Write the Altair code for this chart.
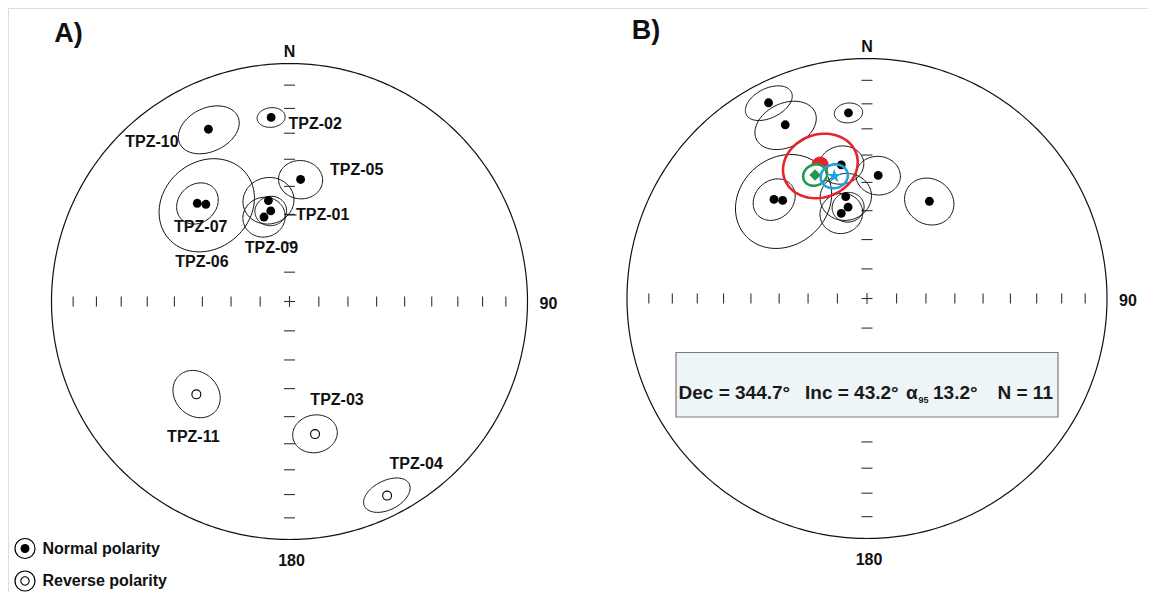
import math
import numpy as np
import pandas as pd
import altair as alt

# ------------------------------------------------------------------ data
sites = ["TPZ-01", "TPZ-02", "TPZ-03", "TPZ-04", "TPZ-05", "TPZ-06",
         "TPZ-07", "TPZ-08", "TPZ-09", "TPZ-10", "TPZ-11"]
# panel A: in-situ site means (negative inclination = reverse polarity)
dec_a = [348.3, 354.3, 169.1, 153.3, 5.2, 319.3, 316.8, 348.2, 343.2, 334.8, 225.1]
inc_a = [58.1, 23.3, -42.7, -9.6, 47.3, 45.2, 42.8, 54.3, 59.6, 21.1, -44.0]
a95_a = [5.2, 4.0, 7.0, 6.5, 7.0, 16.0, 7.0, 8.3, 7.0, 9.0, 8.0]
labels_a = ["TPZ-01", "TPZ-02", "TPZ-03", "TPZ-04", "TPZ-05", "TPZ-06",
            "TPZ-07", "", "TPZ-09", "TPZ-10", "TPZ-11"]
# panel B: all directions in normal polarity
dec_b = [348.3, 354.3, 349.1, 333.3, 5.2, 319.3, 316.8, 348.2, 343.2, 334.8, 32.7]
inc_b = [58.1, 23.3, 42.7, 9.6, 47.3, 45.2, 42.8, 54.3, 59.6, 21.1, 50.2]
a95_b = [5.2, 4.0, 7.0, 6.5, 7.0, 16.0, 7.0, 8.3, 7.0, 9.0, 8.1]
# mean directions shown in panel B: (dec, inc, a95)
mean_red = (340.6, 40.8, 11.7)
mean_green = (337.2, 43.5, 3.8)
mean_blue = (345.0, 46.2, 4.3)
stats_parts = ["Dec = 344.7°", "Inc = 43.2°", "α", "95", "13.2°", "N = 11"]
tick_incs = [10, 20, 30, 40, 50, 60, 70, 80]
legend_labels = ["Normal polarity", "Reverse polarity"]

# ------------------------------------------------------------------ layout
PA = dict(cx=289.5, cy=301.5, R=238.0)
PB = dict(cx=867.0, cy=298.5, R=240.0)
# label offsets from the site point (panel A)
label_off = {"TPZ-01": (52, 4), "TPZ-02": (44, 6.5), "TPZ-03": (22, -34),
             "TPZ-04": (29, -32), "TPZ-05": (56, -9.5), "TPZ-06": (-4, 57.5),
             "TPZ-07": (3.5, 23.5), "TPZ-09": (7.5, 31), "TPZ-10": (-56.5, 12.5),
             "TPZ-11": (-3, 42.5)}
FONT = "Liberation Sans"


def vec(dec, inc):
    D, I = math.radians(dec), math.radians(inc)
    return np.array([math.cos(I) * math.cos(D), math.cos(I) * math.sin(D), math.sin(I)])


def proj_vec(p, P):
    n, e, d = p
    d = max(d, 0.0)
    k = P["R"] / math.sqrt(1 + d)
    return P["cx"] + k * e, P["cy"] - k * n


def proj(dec, inc, P):
    return proj_vec(vec(dec, abs(inc)), P)


def cone(dec, inc, a, P, npts=96):
    I = abs(inc)
    m = vec(dec, I)
    u = vec(dec, I - 90)
    v = np.cross(m, u)
    A = math.radians(a)
    pts = []
    for t in np.linspace(0, 2 * math.pi, npts + 1):
        p = math.cos(A) * m + math.sin(A) * (math.cos(t) * u + math.sin(t) * v)
        pts.append(proj_vec(p, P))
    return pts


# ------------------------------------------------------------------ tables
ell_rows = []
for j, s in enumerate(sites):
    for k, (x, y) in enumerate(cone(dec_a[j], inc_a[j], a95_a[j], PA)):
        ell_rows.append(dict(grp="A" + s, ord=k, x=x, y=y))
    for k, (x, y) in enumerate(cone(dec_b[j], inc_b[j], a95_b[j], PB)):
        ell_rows.append(dict(grp="B" + s, ord=k, x=x, y=y))
ell_df = pd.DataFrame(ell_rows)

prim_rows = []
for name, P in (("A", PA), ("B", PB)):
    for k, t in enumerate(np.linspace(0, 2 * math.pi, 361)):
        prim_rows.append(dict(grp=name, ord=k, x=P["cx"] + P["R"] * math.sin(t),
                              y=P["cy"] - P["R"] * math.cos(t)))
prim_df = pd.DataFrame(prim_rows)

tick_rows = []
for P in (PA, PB):
    cx, cy, R = P["cx"], P["cy"], P["R"]
    for i in tick_incs:
        r = R * math.sqrt(1 - math.sin(math.radians(i)))
        for sgn in (-1, 1):
            tick_rows.append(dict(x=cx + sgn * r, x2=cx + sgn * r, y=cy - 5, y2=cy + 5))
            tick_rows.append(dict(x=cx - 5.5, x2=cx + 5.5, y=cy + sgn * r, y2=cy + sgn * r))
    tick_rows.append(dict(x=cx - 5.5, x2=cx + 5.5, y=cy, y2=cy))
    tick_rows.append(dict(x=cx, x2=cx, y=cy - 5.5, y2=cy + 5.5))
tick_df = pd.DataFrame(tick_rows)

pt_rows = []
for j, s in enumerate(sites):
    x, y = proj(dec_a[j], inc_a[j], PA)
    pt_rows.append(dict(x=x, y=y, pol="N" if inc_a[j] >= 0 else "R"))
    x, y = proj(dec_b[j], inc_b[j], PB)
    pt_rows.append(dict(x=x, y=y, pol="N" if inc_b[j] >= 0 else "R"))
pt_df = pd.DataFrame(pt_rows)

lab_rows = []
for j, s in enumerate(sites):
    if labels_a[j]:
        x, y = proj(dec_a[j], inc_a[j], PA)
        dx, dy = label_off[s]
        lab_rows.append(dict(x=x + dx, y=y + dy, t=labels_a[j]))
lab_df = pd.DataFrame(lab_rows)

# ------------------------------------------------------------------ encodings
xs = alt.Scale(domain=[8, 1148], nice=False, zero=False)
ys = alt.Scale(domain=[8, 592], nice=False, zero=False, reverse=True)
X = lambda f="x": alt.X(f + ":Q", scale=xs, axis=None)
Y = lambda f="y": alt.Y(f + ":Q", scale=ys, axis=None)


def lines(df, color, width):
    return alt.Chart(df).mark_line(color=color, strokeWidth=width).encode(
        x=X(), y=Y(), detail="grp:N", order="ord:Q")


ticks = alt.Chart(tick_df).mark_rule(color="#333333", strokeWidth=1.1).encode(
    x=X(), y=Y(), x2="x2:Q", y2="y2:Q")

bx = [676, 1058, 352.5, 417]
box_df = pd.DataFrame([dict(x=bx[0], x2=bx[1], y=bx[2], y2=bx[3])])
box = alt.Chart(box_df).mark_rect(fill="#eef5f6", stroke="#7a7a7a", strokeWidth=1.2).encode(
    x=X(), x2="x2:Q", y=Y(), y2="y2:Q")

prim = lines(prim_df, "#111111", 1.2)
ells = lines(ell_df, "#111111", 1.0)

dots_n = alt.Chart(pt_df[pt_df.pol == "N"]).mark_point(
    shape="circle", filled=True, color="#000000", size=78, opacity=1).encode(x=X(), y=Y())
dots_r = alt.Chart(pt_df[pt_df.pol == "R"]).mark_point(
    shape="circle", filled=False, color="#000000", size=80, strokeWidth=1.1, opacity=1).encode(x=X(), y=Y())

RED, GREEN, BLUE = "#e3262b", "#1f9a4e", "#1ea3dc"


def cone_df(m, P, tag):
    return pd.DataFrame([dict(grp=tag, ord=k, x=x, y=y)
                         for k, (x, y) in enumerate(cone(m[0], m[1], m[2], P))])


def pt_df1(m, P):
    x, y = proj(m[0], m[1], P)
    return pd.DataFrame([dict(x=x, y=y)])


red_ell = lines(cone_df(mean_red, PB, "r"), RED, 2.6)
red_dot = alt.Chart(pt_df1(mean_red, PB)).mark_point(
    shape="circle", filled=True, color=RED, size=300, opacity=1).encode(x=X(), y=Y())
green_bg = alt.Chart(pt_df1(mean_green, PB)).mark_point(
    shape="circle", filled=True, color="white", size=440, opacity=1).encode(x=X(), y=Y())
green_ell = lines(cone_df(mean_green, PB, "g"), GREEN, 2.6)
green_dia = alt.Chart(pt_df1(mean_green, PB)).mark_point(
    shape="diamond", filled=True, color=GREEN, size=130, opacity=1).encode(x=X(), y=Y())
blue_ell = lines(cone_df(mean_blue, PB, "b"), BLUE, 2.6)
STAR = ("M0,-1L0.2245,-0.309L0.951,-0.309L0.363,0.118L0.588,0.809L0,0.382"
        "L-0.588,0.809L-0.363,0.118L-0.951,-0.309L-0.2245,-0.309Z")
blue_star = alt.Chart(pt_df1(mean_blue, PB)).mark_point(
    shape=STAR, filled=True, color=BLUE, size=220, opacity=1).encode(x=X(), y=Y())

site_labels = alt.Chart(lab_df).mark_text(
    font=FONT, fontWeight="bold", fontSize=16, color="#111111", baseline="middle").encode(
    x=X(), y=Y(), text="t:N")
leader_df = pd.DataFrame([dict(x=286.5, x2=296.5, y=215, y2=215)])
leader = alt.Chart(leader_df).mark_rule(color="#111111", strokeWidth=1).encode(
    x=X(), x2="x2:Q", y=Y(), y2="y2:Q")

panel_txt = []
for P, tag in ((PA, "A)"), (PB, "B)")):
    cx, cy, R = P["cx"], P["cy"], P["R"]
    panel_txt += [dict(x=cx, y=cy - R - 12, t="N", fs=16),
                  dict(x=cx + R + 21, y=cy + 2, t="90", fs=16),
                  dict(x=cx + 2, y=cy + R + 21, t="180", fs=16),
                  dict(x=cx - 221, y=cy - 268, t=tag, fs=27)]
ptxt_df = pd.DataFrame(panel_txt)
ptxt = alt.Chart(ptxt_df).mark_text(
    font=FONT, fontWeight="bold", color="#111111", baseline="middle").encode(
    x=X(), y=Y(), text="t:N", size=alt.Size("fs:Q", scale=None, legend=None))

# statistics text in box
stx = [678.5, 805, 906, 918.5, 933, 997.5]
sty = [399, 399, 399, 403, 399, 399]
sfs = [19, 19, 19, 9, 19, 19]
st_df = pd.DataFrame(dict(x=stx, y=sty, t=stats_parts, fs=sfs))
stats = alt.Chart(st_df).mark_text(
    font=FONT, fontWeight="bold", color="#1a1a1a", align="left", baseline="alphabetic").encode(
    x=X(), y=Y(), text="t:N", size=alt.Size("fs:Q", scale=None, legend=None))

# legend
lg_df = pd.DataFrame(dict(x=[25, 25], y=[548.5, 581], t=legend_labels, pol=["N", "R"]))
lg_ring = alt.Chart(lg_df).mark_point(
    shape="circle", filled=False, color="#000000", size=400, strokeWidth=1.2, opacity=1).encode(x=X(), y=Y())
lg_in_n = alt.Chart(lg_df[lg_df.pol == "N"]).mark_point(
    shape="circle", filled=True, color="#000000", size=80, opacity=1).encode(x=X(), y=Y())
lg_in_r = alt.Chart(lg_df[lg_df.pol == "R"]).mark_point(
    shape="circle", filled=False, color="#000000", size=70, strokeWidth=1.1, opacity=1).encode(x=X(), y=Y())
lg_txt = alt.Chart(lg_df.assign(xt=lg_df.x + 17.5)).mark_text(
    font=FONT, fontWeight="bold", fontSize=16, color="#111111", align="left", baseline="middle").encode(
    x=X("xt"), y=Y(), text="t:N")

chart = alt.layer(
    ticks, box, prim, ells, dots_n, dots_r,
    red_ell, red_dot, green_bg, green_ell, green_dia, blue_ell, blue_star,
    site_labels, leader, ptxt, stats, lg_ring, lg_in_n, lg_in_r, lg_txt,
).properties(
    width=1140, height=584, padding=0,
    autosize=alt.AutoSizeParams(type="none"),
).configure_view(strokeWidth=0).configure(background="white")

chart.save("out.html", embed_options={"renderer": "svg", "actions": False})
